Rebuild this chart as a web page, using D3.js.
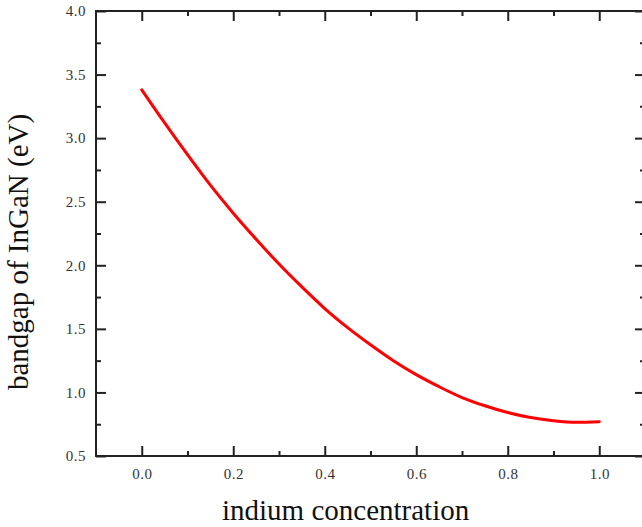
<html>
  <head>
    <style>
      body { margin: 0; background: #fff; }
    </style>
  </head>
  <body>
    <script src="https://d3js.org/d3.v7.min.js"></script>
    <script>
    var width = 642, height = 527;

    // indium fraction and bandgap
    var indium = [0, 0.05, 0.1, 0.15, 0.2, 0.25, 0.3, 0.35, 0.4, 0.45, 0.5, 0.55, 0.6, 0.65, 0.7, 0.75, 0.8, 0.85, 0.9, 0.95, 1.0];
    var bandgap = [3.38, 3.12, 2.87, 2.63, 2.41, 2.205, 2.01, 1.83, 1.66, 1.51, 1.375, 1.25, 1.14, 1.045, 0.96, 0.895, 0.842, 0.803, 0.778, 0.766, 0.77];
    var xTicks = [0.0, 0.2, 0.4, 0.6, 0.8, 1.0];
    var xMinor = [0.1, 0.3, 0.5, 0.7, 0.9];
    var yTicks = [0.5, 1.0, 1.5, 2.0, 2.5, 3.0, 3.5, 4.0];
    var yMinor = [0.75, 1.25, 1.75, 2.25, 2.75, 3.25, 3.75];

    var mLeft = 96, mRight = 645, mTop = 11, mBottom = 456;
    var serif = "'Liberation Serif', 'Times New Roman', serif";

    var x = d3.scaleLinear().domain([-0.1, 1.1]).range([mLeft, mRight]);
    var y = d3.scaleLinear().domain([0.5, 4.0]).range([mBottom, mTop]);

    var svg = d3.select("body")
        .append("svg")
        .attr("width", width)
        .attr("height", height);

    var major = 10, minor = 5;

    function ticks(axis, values, len, withLabels) {
      return axis.tickValues(values).tickSizeInner(-len).tickSizeOuter(0)
        .tickFormat(withLabels ? d3.format(".1f") : "");
    }

    function drawAxis(tx, ty, axis) {
      var g = svg.append("g").attr("transform", "translate(" + tx + "," + ty + ")").call(axis);
      g.select(".domain").remove();
      g.selectAll(".tick line").attr("stroke", "#222").attr("stroke-width", 2);
      g.selectAll(".tick text")
        .attr("font-family", serif)
        .attr("font-size", 15)
        .attr("letter-spacing", 0.5)
        .attr("fill", "#333");
      return g;
    }

    // bottom
    drawAxis(0, mBottom, ticks(d3.axisBottom(x), xTicks, major, true).tickPadding(12));
    drawAxis(0, mBottom, ticks(d3.axisBottom(x), xMinor, minor, false));
    // top
    drawAxis(0, mTop, ticks(d3.axisTop(x), xTicks, major, false));
    drawAxis(0, mTop, ticks(d3.axisTop(x), xMinor, minor, false));
    // left
    drawAxis(mLeft, 0, ticks(d3.axisLeft(y), yTicks, major, true).tickPadding(10));
    drawAxis(mLeft, 0, ticks(d3.axisLeft(y), yMinor, minor, false));
    // right
    drawAxis(mRight, 0, ticks(d3.axisRight(y), yTicks, major, false));
    drawAxis(mRight, 0, ticks(d3.axisRight(y), yMinor, minor, false));

    // frame
    svg.append("rect")
      .attr("x", mLeft).attr("y", mTop)
      .attr("width", mRight - mLeft).attr("height", mBottom - mTop)
      .attr("fill", "none").attr("stroke", "#222").attr("stroke-width", 2);

    var points = indium.map(function(d, i) { return [d, bandgap[i]]; });
    svg.append("path")
      .datum(points)
      .attr("fill", "none")
      .attr("stroke", "#ff0000")
      .attr("stroke-width", 3)
      .attr("stroke-linecap", "round")
      .attr("d", d3.line().curve(d3.curveMonotoneX)
        .x(function(d) { return x(d[0]); })
        .y(function(d) { return y(d[1]); }));

    svg.append("text")
      .attr("x", 222).attr("y", 520)
      .attr("font-family", serif).attr("font-size", 29).attr("fill", "#111")
      .text("indium concentration");

    svg.append("text")
      .attr("transform", "translate(28,252) rotate(-90)")
      .attr("text-anchor", "middle")
      .attr("font-family", serif).attr("font-size", 29).attr("fill", "#111")
      .text("bandgap of InGaN (eV)");
    </script>
  </body>
</html>
